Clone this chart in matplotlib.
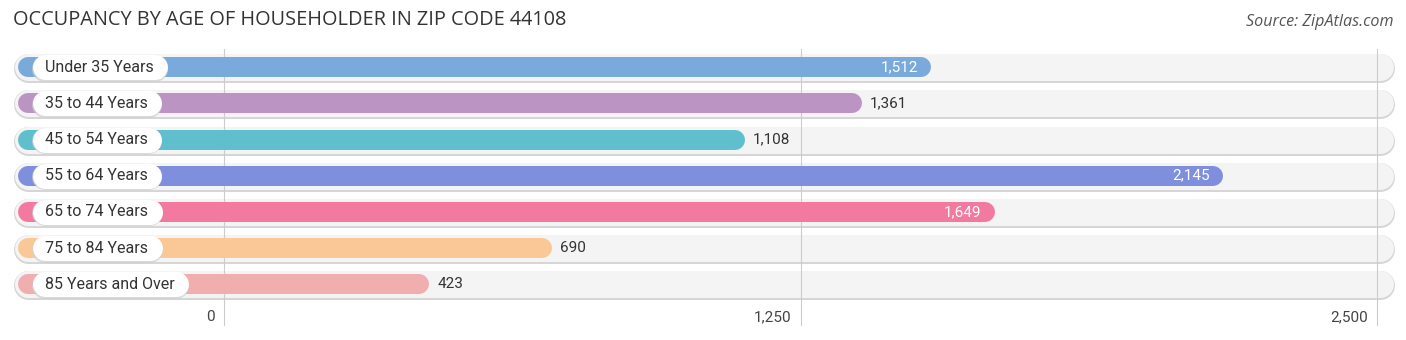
import matplotlib
matplotlib.use("Agg")
import matplotlib.pyplot as plt

categories = ["Under 35 Years", "35 to 44 Years", "45 to 54 Years", "55 to 64 Years",
              "65 to 74 Years", "75 to 84 Years", "85 Years and Over"]
values = [1512, 1361, 1108, 2145, 1649, 690, 423]
colors = ["#7aaadc", "#bb94c4", "#5fbfcc", "#7f8fde", "#f27aa0", "#f9c896", "#f0aeae"]
ticks = [0, 1250, 2500]
xmax = 2500

W, H, DPI = 1406, 340, 100
fig = plt.figure(figsize=(W / DPI, H / DPI), dpi=DPI)
plt.rcParams["font.family"] = ["Roboto", "DejaVu Sans"]

# axes pixel frame: x=0 -> 224px, x=2500 -> 1377px; rows 36.2px apart
x0_px, x1_px = 224, 1377
row_h = 36.2
top_px = 49
n = len(categories)
ax = fig.add_axes([x0_px / W, 1 - (top_px + n * row_h) / H,
                   (x1_px - x0_px) / W, n * row_h / H])
ax.set_xlim(0, xmax)
ax.set_ylim(n - 0.5, -0.5)
ax.axis("off")
ax.patch.set_alpha(0)

ppu = (x1_px - x0_px) / xmax  # pixels per data unit
px = lambda p: (p - x0_px) / ppu  # pixel column -> data x
pt = lambda p: p * 72 / DPI  # pixels -> points
renderer = fig.canvas.get_renderer()

bg_h, bar_h, tag_h = 27, 20, 25
for i, (cat, v, c) in enumerate(zip(categories, values, colors)):
    # background pill with a soft border
    a, b = px(14 + bg_h / 2), px(1393 - bg_h / 2)
    ax.plot([a, b], [i + 0.03, i + 0.03], color="#d6d6d6", lw=pt(bg_h + 2),
            solid_capstyle="round", zorder=1, clip_on=False)
    ax.plot([a, b], [i, i], color="#f4f4f4", lw=pt(bg_h),
            solid_capstyle="round", zorder=2, clip_on=False)
    # value bar, rounded at both ends
    s = px(18 + bar_h / 2)
    ax.plot([s, v], [i, i], color=c, lw=pt(bar_h),
            solid_capstyle="round", zorder=4, clip_on=False)
    # category label on a white pill sized to the text
    lbl = ax.text(px(45), i, cat, ha="left", va="center", fontsize=11.5,
                  color="#333333", zorder=7)
    right_px = lbl.get_window_extent(renderer).x1
    ta, tb = px(32 + tag_h / 2), px(right_px + 14 - tag_h / 2)
    ax.plot([ta, tb], [i + 0.04, i + 0.04], color="#cfcfcf", lw=pt(tag_h + 1),
            solid_capstyle="round", zorder=5, clip_on=False, alpha=0.7)
    ax.plot([ta, tb], [i, i], color="white", lw=pt(tag_h),
            solid_capstyle="round", zorder=6, clip_on=False)
    end_px = bar_h / 2 / ppu
    if v > 1400:
        ax.text(v + end_px - 13 / ppu, i, f"{v:,}", ha="right", va="center",
                fontsize=11, color="white", zorder=7)
    else:
        ax.text(v + end_px + 8 / ppu, i, f"{v:,}", ha="left", va="center",
                fontsize=11, color="#333333", zorder=7)

# vertical grid lines and tick labels
for t in ticks:
    ax.plot([t, t], [-0.5, 7.12], color="#cccccc", lw=0.8, zorder=3,
            clip_on=False)
    ax.text(t - 9 / ppu, 6.9, f"{t:,}", ha="right", va="center", fontsize=11,
            color="#444444")

fig.text(13 / W, 1 - 20 / H, "OCCUPANCY BY AGE OF HOUSEHOLDER IN ZIP CODE 44108",
         ha="left", va="center", fontsize=14.3, color="#333333",
         family=["Open Sans", "DejaVu Sans"])
fig.text(1393 / W, 1 - 22 / H, "Source: ZipAtlas.com", ha="right", va="center",
         fontsize=11.6, style="italic", color="#555555",
         family=["Open Sans", "DejaVu Sans"])

fig.savefig("out.png", dpi=DPI)
